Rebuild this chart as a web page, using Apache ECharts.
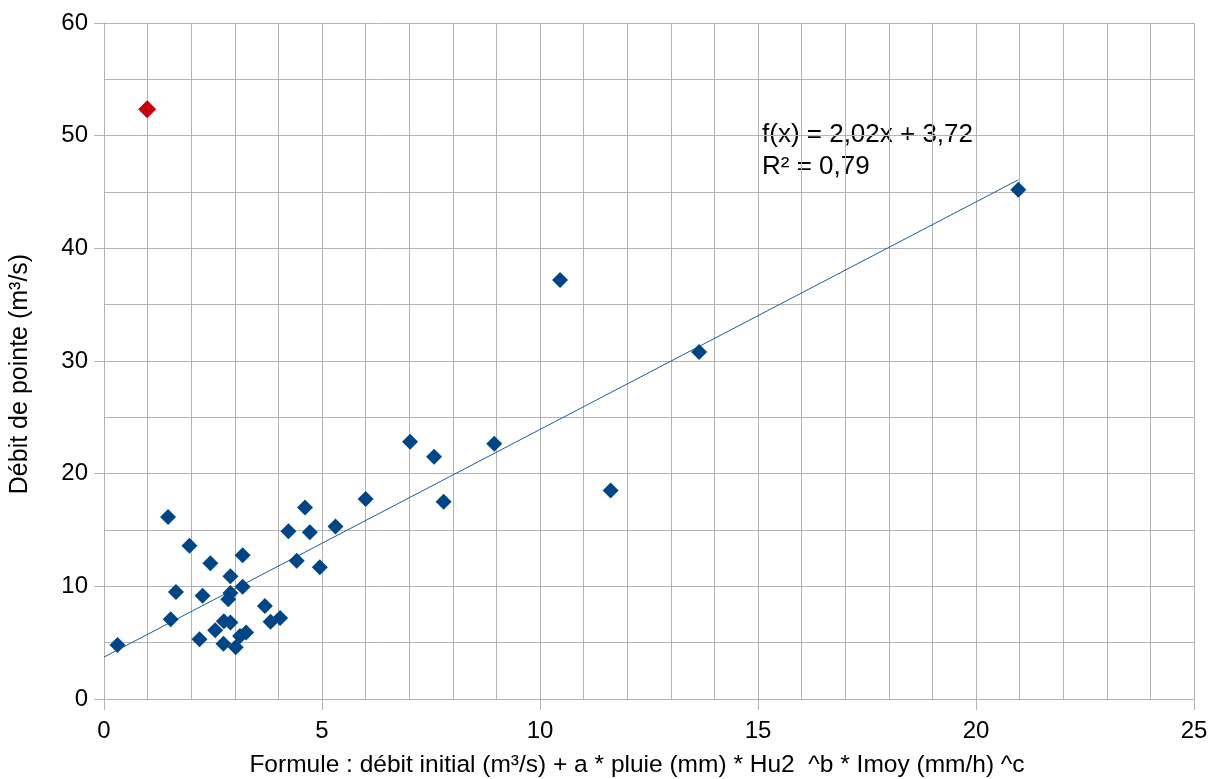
<!DOCTYPE html>
<html><head><meta charset="utf-8">
<script src="https://cdn.jsdelivr.net/npm/echarts@6/dist/echarts.min.js"></script>
<style>html,body{margin:0;padding:0;background:#fff}#c{width:1210px;height:779px}</style>
</head><body><div id="c"></div>
<script>
var formulaX = [0.31,1.47,1.65,1.53,1.96,2.19,2.26,2.44,2.55,2.74,2.75,2.90,2.90,2.85,2.90,3.02,3.12,3.26,3.18,3.18,3.69,3.82,4.04,4.23,4.42,4.61,4.72,4.95,5.31,6.00,7.02,7.57,7.79,8.95,10.46,11.62,13.65,20.97];
var debitY   = [4.8,16.15,9.5,7.07,13.6,5.3,9.17,12.04,6.1,4.9,6.9,6.8,10.9,8.85,9.4,4.6,5.6,5.9,12.75,9.96,8.25,6.86,7.2,14.9,12.27,17.0,14.8,11.7,15.3,17.75,22.83,21.5,17.5,22.65,37.2,18.5,30.8,45.2];
var outlierX = [0.99];
var outlierY = [52.35];
var trendSlope = 2.02, trendIntercept = 3.72;
var trendRangeX = [0, 20.97];
var xTicks = [0,5,10,15,20,25];
var yTicks = [0,10,20,30,40,50,60];
var eqLines = ['f(x) = 2,02x + 3,72', 'R² = 0,79'];

var mainPts = formulaX.map(function(x,i){return [x, debitY[i]];});
var outPts = outlierX.map(function(x,i){return [x, outlierY[i]];});
var trendPts = trendRangeX.map(function(x){return [x, trendSlope*x + trendIntercept];});

var font = 'Liberation Sans, Arial, sans-serif';
var grid = '#b3b3b3';
var chart = echarts.init(document.getElementById('c'), null, {renderer:'canvas'});
chart.setOption({
  animation:false,
  grid:{left:104, right:16, top:23, bottom:80, containLabel:false, outerBoundsMode:'none'},
  xAxis:{type:'value', min:xTicks[0], max:xTicks[xTicks.length-1], interval:5,
    name:'Formule : débit initial (m³/s) + a * pluie (mm) * Hu2  ^b * Imoy (mm/h) ^c',
    nameLocation:'middle', nameGap:54,
    nameTextStyle:{fontFamily:font, fontSize:24.5, color:'#000', padding:[0,24,0,0]},
    axisLine:{show:true, onZero:false, lineStyle:{color:grid, width:1}},
    axisTick:{show:true, length:11, inside:false, lineStyle:{color:grid}},
    minorTick:{show:false, splitNumber:5},
    axisLabel:{fontFamily:font, fontSize:24, color:'#000', margin:20},
    splitLine:{show:true, lineStyle:{color:grid, width:1}},
    minorSplitLine:{show:true, lineStyle:{color:grid, width:1}}
  },
  yAxis:{type:'value', min:yTicks[0], max:yTicks[yTicks.length-1], interval:10,
    name:'Débit de pointe (m³/s)', nameLocation:'middle', nameGap:71, nameRotate:90,
    nameTextStyle:{fontFamily:font, fontSize:25, color:'#000', padding:[0,26,0,0]},
    axisLine:{show:true, lineStyle:{color:grid, width:1}},
    axisTick:{show:true, length:10, lineStyle:{color:grid}},
    minorTick:{show:false, splitNumber:2},
    axisLabel:{fontFamily:font, fontSize:24, color:'#000', margin:16},
    splitLine:{show:true, lineStyle:{color:grid, width:1}},
    minorSplitLine:{show:true, lineStyle:{color:grid, width:1}}
  },
  series:[
    {type:'line', data:trendPts, symbol:'none', lineStyle:{color:'#1f5a99', width:1}, z:2, silent:true},
    {type:'scatter', data:mainPts, symbol:'diamond', symbolSize:16, itemStyle:{color:'#004586', opacity:1}, z:3},
    {type:'scatter', data:outPts, symbol:'diamond', symbolSize:18, itemStyle:{color:'#c9000e', opacity:1}, z:3}
  ],
  graphic:[
    {type:'text', left:762, top:119, style:{text:eqLines.join('\n'), font:'26px '+font, fill:'#000', lineHeight:32}}
  ]
});
</script></body></html>
